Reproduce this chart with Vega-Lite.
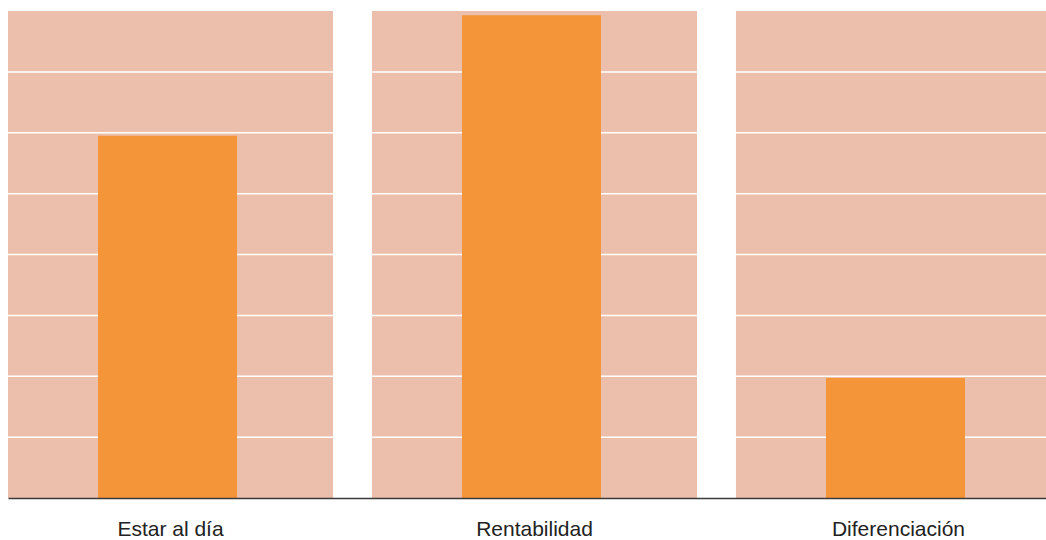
{
  "$schema": "https://vega.github.io/schema/vega-lite/v6.json",
  "width": 1053,
  "height": 487,
  "padding": {"left": 7, "top": 11, "right": 0, "bottom": 0},
  "background": "white",
  "view": {"stroke": null},
  "config": {"font": "Liberation Sans"},
  "data": {
    "values": [
      {"categoria": "Estar al día", "valor": 5.95},
      {"categoria": "Rentabilidad", "valor": 7.93},
      {"categoria": "Diferenciación", "valor": 1.97}
    ]
  },
  "encoding": {
    "x": {
      "field": "categoria",
      "type": "nominal",
      "sort": null,
      "scale": {"paddingInner": 0.107, "paddingOuter": 0},
      "axis": {
        "title": null,
        "ticks": false,
        "labelAngle": 0,
        "labelFontSize": 21,
        "labelColor": "#222222",
        "labelPadding": 20,
        "domainColor": "#3a3a3a",
        "domainWidth": 1.6,
        "zindex": 2
      }
    }
  },
  "layer": [
    {
      "mark": {"type": "bar", "color": "#ECBFAC"},
      "encoding": {
        "y": {"datum": 8, "type": "quantitative", "scale": {"domain": [0, 8], "nice": false}, "axis": null}
      }
    },
    {
      "data": {"values": [{"linea": 1}, {"linea": 2}, {"linea": 3}, {"linea": 4}, {"linea": 5}, {"linea": 6}, {"linea": 7}]},
      "mark": {"type": "rule", "color": "white", "strokeWidth": 1.5},
      "encoding": {
        "x": null,
        "y": {"field": "linea", "type": "quantitative"}
      }
    },
    {
      "mark": {"type": "bar", "color": "#F5953A", "width": 139, "xOffset": -3},
      "encoding": {
        "y": {"field": "valor", "type": "quantitative"}
      }
    }
  ]
}
